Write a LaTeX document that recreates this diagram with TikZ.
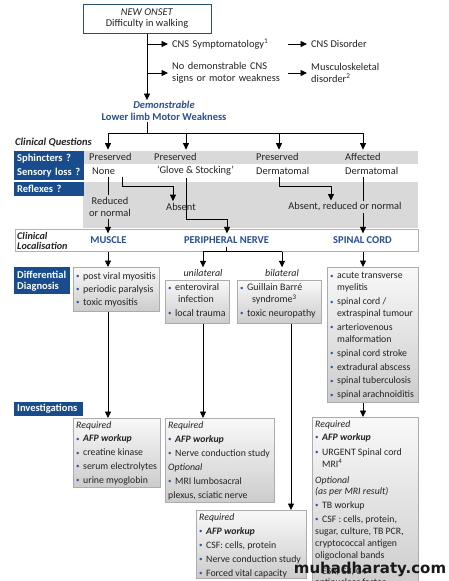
\documentclass[tikz,border=0pt]{standalone}
\usepackage{fontspec}
\setmainfont{Carlito}
\newfontfamily\wmfont{DejaVu Sans}
\usetikzlibrary{arrows.meta,calc}
\definecolor{qblue}{RGB}{24,76,140}
\definecolor{tblue}{RGB}{40,78,150}
\definecolor{tbord}{RGB}{40,80,115}
\definecolor{bulc}{RGB}{50,90,160}
\definecolor{txt}{RGB}{35,35,35}
\definecolor{bandc}{RGB}{217,217,217}
\newcommand{\fs}{\fontsize{9.8}{12}\selectfont}
\newcommand{\fsd}{\fontsize{10}{12}\selectfont}
\newcommand{\fsu}{\fontsize{10.4}{12}\selectfont}
\newcommand{\fsl}{\fontsize{10.5}{12}\selectfont}
\newcommand{\bl}{{\color{bulc}\fontsize{7}{7}\selectfont\raisebox{0.6pt}{•}}\hspace{3.5pt}}
\newcommand{\bc}{\phantom{\bl}}
\begin{document}
\begin{tikzpicture}[x=1pt,y=-1pt,
  every node/.style={text=txt, font=\fsu},
  ln/.style={line width=0.8pt, draw=black},
  arr/.style={ln, -{Triangle[length=6.5pt,width=6pt]}},
  lab/.style={inner sep=2pt},
  qbox/.style={fill=qblue, text=white, font=\fsl\bfseries, anchor=north west, inner sep=3pt, align=left},
  band/.style={fill=bandc, draw=none, anchor=north west, inner sep=0pt},
  gbox/.style={draw=gray!65, line width=0.5pt, top color=gray!5, bottom color=gray!40, anchor=north west, inner sep=0pt},
  lst/.style={align=left, anchor=north west, inner sep=0pt, font=\fs},
  lstd/.style={lst, font=\fsd},
  loctxt/.style={text=tblue, font=\fsl\bfseries, inner sep=3pt},
]
\useasboundingbox (0,0) rectangle (448,581);

% ---- top part
\node[draw=tbord, line width=0.9pt, minimum width=128, minimum height=29, align=center,
      font=\fontsize{10.4}{11}\selectfont, inner sep=0pt] (onset) at (147,19)
      {\textit{NEW ONSET}\\Difficulty in walking};
\node[lab, inner xsep=4pt, anchor=west, text width=112, align=left] (cns) at (168,44) {CNS Symptomatology\textsuperscript{1}};
\node[lab, inner xsep=4pt, anchor=west, text width=112, align=left] (nodemo) at (168,73) {No demonstrable CNS\\signs or motor weakness};
\node[lab, inner xsep=4pt, anchor=west, align=left] (cnsd) at (307,44) {CNS Disorder};
\node[lab, inner xsep=4pt, anchor=west, align=left] (msk) at (307,73) {Musculoskeletal\\disorder\textsuperscript{2}};
\node[align=center, text=tblue, inner sep=1pt, font=\fsl] (weak) at (164,111) {\textbf{\textit{Demonstrable}}\\\textbf{Lower limb Motor Weakness}};

\draw[arr] (onset.south |- cns) -- (cns.west);
\draw[arr] (onset.south |- nodemo) -- (nodemo.west);
\draw[arr] (cns.east) -- (cnsd.west);
\draw[arr] (nodemo.east) -- (msk.west);
\draw[arr] (onset.south) -- (onset.south |- weak.north);

% ---- clinical questions
\coordinate (hb) at (147,133);
\coordinate (c1) at (108,133);
\coordinate (c2) at (186,133);
\coordinate (c3) at (279,133);
\coordinate (c4) at (363,133);

\node[lab, anchor=west, font=\fsl\bfseries\itshape] (cq) at (13,142) {Clinical Questions};
\node[band, minimum width=335, minimum height=12.5] (b1) at (83,151) {};
\node[band, minimum width=335, minimum height=46] (b2) at (83,182) {};
\node[qbox, text width=64, minimum height=28] (qs) at (14,150.5) {Sphincters ?\\[2pt]Sensory loss ?};
\node[qbox, text width=64, minimum height=13.5, inner ysep=1pt] (qr) at (14,182) {Reflexes ?};

\node[lab, anchor=west] (p1) at (87,157) {Preserved};
\node[lab, anchor=west] (p2) at (152,157) {Preserved};
\node[lab, anchor=west] (p3) at (254,157) {Preserved};
\node[lab, anchor=west] (p4) at (343,157) {Affected};
\node[lab, anchor=west] (s1) at (90,171) {None};
\node[lab, anchor=west] (s2) at (155,171) {‘Glove \& Stocking’};
\node[lab, anchor=west] (s3) at (254,171) {Dermatomal};
\node[lab, anchor=west] (s4) at (343,171) {Dermatomal};

\draw[ln] (weak.south -| hb) -- (hb);
\draw[ln] (c1) -- (c4);
\draw[arr, shorten >=1.5pt] (c1) -- (c1 |- p1.north);
\draw[arr, shorten >=1.5pt] (c2) -- (c2 |- p2.north);
\draw[arr, shorten >=1.5pt] (c3) -- (c3 |- p3.north);
\draw[arr, shorten >=1.5pt] (c4) -- (c4 |- p4.north);

% ---- reflexes
\node[lab, align=center, font=\fontsize{10.4}{11.5}\selectfont] (rn) at (110,207) {Reduced\\or normal};
\node[lab] (ab) at (181,207) {Absent};
\node[lab] (arn) at (345,207) {Absent, reduced or normal};

% ---- localisation
\node[draw=gray!60, fill=white, line width=0.5pt, minimum width=403, minimum height=22,
      anchor=north west, inner sep=0pt] (loc) at (15,229) {};
\node[lab, anchor=west, align=left, font=\fontsize{10.2}{10}\selectfont\bfseries\itshape] (cl) at (15,240.5) {Clinical\\Localisation};
\node[loctxt] (mus) at (108.5,240) {MUSCLE};
\node[loctxt] (pn) at (226.5,240) {PERIPHERAL NERVE};
\node[loctxt] (sc) at (362.5,240) {SPINAL CORD};

\coordinate (k1) at (122,186);
\coordinate (k2) at (173,186);
\coordinate (k3) at (227,219);
\coordinate (k4) at (331,186);

\draw[ln] (c1 |- s1.south) -- (c1 |- rn.north);
\draw[arr] (c1 |- rn.south) -- (c1 |- mus.north);
\draw[arr] (k1 |- s1.south) -- (k1) -- (k2) -- (k2 |- ab.north);
\draw[arr] (c2 |- s2.south) -- (c2 |- k3) -- (k3) -- (k3 |- pn.north);
\draw[arr] (c3 |- s3.south) -- (c3 |- k4) -- (k4) -- (k4 |- arn.north);
\draw[ln] (c4 |- s4.south) -- (c4 |- arn.north);
\draw[arr] (c4 |- arn.south) -- (c4 |- sc.north);

% ---- differential diagnosis
\coordinate (cu) at (203,253);
\coordinate (cb) at (282,253);
\coordinate (cb2) at (291,253);

\node[qbox, text width=50, minimum height=27, font=\fontsize{10.5}{11}\selectfont\bfseries] (qd) at (14,267) {Differential\\Diagnosis};
\node[lab, font=\fsd\itshape] (uni) at (203,273) {unilateral};
\node[lab, font=\fsd\itshape] (bil) at (282,273) {bilateral};

\node[gbox, minimum width=86, minimum height=44] (dd1) at (73,267) {};
\node[lstd] (dd1t) at ($(dd1.north west)+(3,5)$)
  {\bl post viral myositis\\[1.2pt]\bl periodic paralysis\\[1.2pt]\bl toxic myositis};
\node[gbox, minimum width=64, minimum height=43] (dd2) at (165,280) {};
\node[lstd] (dd2t) at ($(dd2.north west)+(3,3.5)$)
  {\bl enteroviral\\\bc\hspace*{3pt}infection\\[1.5pt]\bl local trauma};
\node[gbox, minimum width=84, minimum height=43] (dd2b) at (237,280) {};
\node[lstd] (dd2bt) at ($(dd2b.north west)+(3,3.5)$)
  {\bl Guillain Barré\\\bc\hspace*{5pt}syndrome\textsuperscript{3}\\[1.5pt]\bl toxic neuropathy};
\node[gbox, minimum width=91, minimum height=135] (dd3) at (327,267) {};
\node[lst] (dd3t) at ($(dd3.north west)+(3,5.5)$)
  {\bl acute transverse\\\bc myelitis\\[1.8pt]\bl spinal cord /\\\bc extraspinal tumour\\[1.8pt]%
   \bl arteriovenous\\\bc malformation\\[1.8pt]\bl spinal cord stroke\\[1.8pt]\bl extradural abscess\\[1.8pt]%
   \bl spinal tuberculosis\\[1.8pt]\bl spinal arachnoiditis};

\draw[arr] (c1 |- loc.south) -- (c1 |- dd1.north);
\draw[ln] (pn.south) -- (pn.south |- loc.south);
\draw[ln] (cu |- loc.south) -- (cb |- loc.south);
\draw[arr] (cu |- loc.south) -- (uni.north);
\draw[arr] (cb |- loc.south) -- (bil.north);
\draw[arr] (c4 |- loc.south) -- (c4 |- dd3.north);

% ---- investigations
\node[qbox, text width=63, minimum height=13.5, inner ysep=1pt] (qi) at (14,402) {Investigations};

\node[gbox, minimum width=87, minimum height=69] (iv1) at (73,418) {};
\node[lst] (iv1t) at ($(iv1.north west)+(3,3)$)
  {\textit{Required}\\[1.8pt]\bl\textbf{\textit{AFP workup}}\\[1.8pt]\bl creatine kinase\\[1.8pt]\bl serum electrolytes\\[1.8pt]\bl urine myoglobin};
\node[gbox, minimum width=109, minimum height=84] (iv2) at (165,418) {};
\node[lst] (iv2t) at ($(iv2.north west)+(3,3)$)
  {\textit{Required}\\[2pt]\bl\textbf{\textit{AFP workup}}\\[2pt]\bl Nerve conduction study\\[2pt]\textit{Optional}\\[2pt]\bl MRI lumbosacral\\[2pt]plexus, sciatic nerve};
\node[gbox, minimum width=110, minimum height=68] (iv3) at (196,510) {};
\node[lst] (iv3t) at ($(iv3.north west)+(3,3)$)
  {\textit{Required}\\[2pt]\bl\textbf{\textit{AFP workup}}\\[2pt]\bl CSF: cells, protein\\[2pt]\bl Nerve conduction study\\[2pt]\bl Forced vital capacity};
\node[gbox, minimum width=106, minimum height=172] (iv4) at (312,417) {};
\node[lst] (iv4t) at ($(iv4.north west)+(3,3)$)
  {\textit{Required}\\[1.5pt]\bl\textbf{\textit{AFP workup}}\\[2.5pt]\bl URGENT Spinal cord\\\bc MRI\textsuperscript{4}\\[4pt]%
   \textit{Optional}\\[-0.5pt]\textit{(as per MRI result)}\\[2pt]\bl TB workup\\[2pt]%
   \bl CSF : cells, protein,\\sugar, culture, TB PCR,\\cryptococcal antigen\\oligoclonal bands\\[4pt]%
   \bl ESR, C3, C4\\[-1pt]antinuclear factor};

\draw[arr] (c1 |- dd1.south) -- (c1 |- iv1.north);
\draw[arr] (cu |- dd2.south) -- (cu |- iv2.north);
\draw[arr] (cb2 |- dd2b.south) -- (cb2 |- iv3.north);
\draw[arr] (c4 |- dd3.south) -- (c4 |- iv4.north);

% ---- watermark
\node[font=\wmfont\bfseries\fontsize{15}{15}\selectfont, text=black!90, inner sep=0pt] (wm) at (370,569) {muhadharaty.com};
\end{tikzpicture}
\end{document}
